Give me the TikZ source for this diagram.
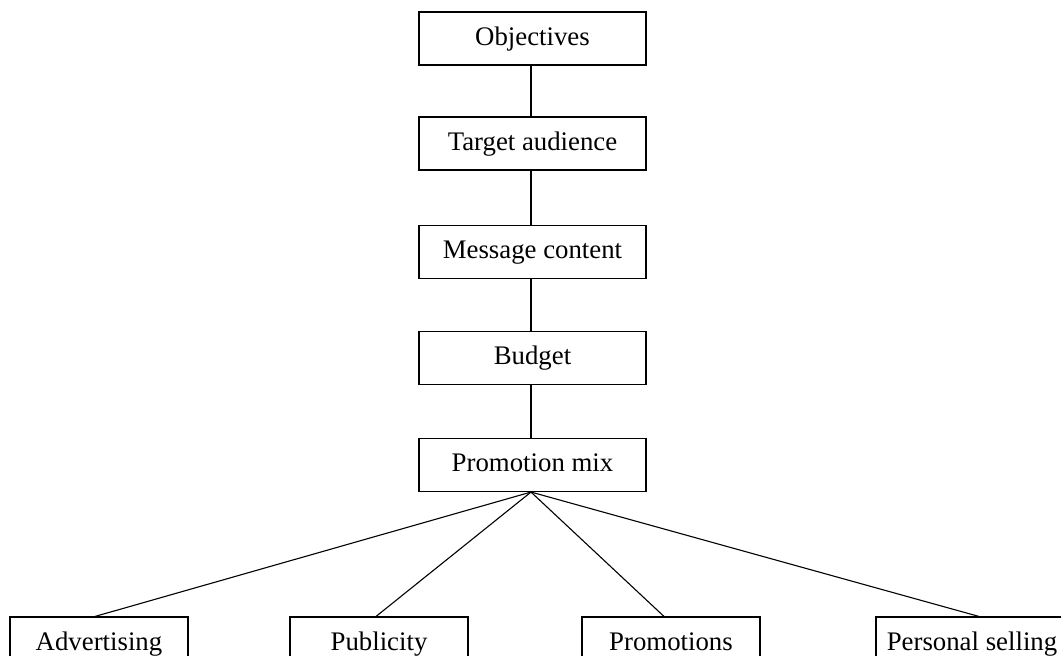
\documentclass[tikz,border=0pt]{standalone}
\usepackage{fontspec}
\setmainfont{Liberation Serif}
\begin{document}
\begin{tikzpicture}[x=1pt,y=-1pt,
  box/.style={draw, line width=1.1pt, minimum height=53pt, inner sep=0pt,
    text height=18pt, text depth=5pt, font=\fontsize{26.8}{30}\selectfont},
  topbox/.style={box, minimum width=227pt},
  botbox/.style={box, minimum width=178pt},
  link/.style={line width=1.1pt}]
\clip (0,0) rectangle (1061,656);
\useasboundingbox (0,0) rectangle (1061,656);
\node[topbox] (obj) at (532.5,38.5) {Objectives};
\node[topbox] (ta) at (532.5,143.5) {Target audience};
\node[topbox] (mc) at (532.5,252) {Message content};
\node[topbox] (bu) at (532.5,358) {Budget};
\node[topbox] (pm) at (532.5,465) {Promotion mix};
\node[botbox] (ad) at (99,643.5) {Advertising};
\node[botbox] (pu) at (379,643.5) {Publicity};
\node[botbox] (pr) at (671,643.5) {Promotions};
\node[botbox, minimum width=192pt] (ps) at (972,643.5) {Personal selling};
\draw[link] ([xshift=-1.5pt]obj.south) -- ([xshift=-1.5pt]ta.north);
\draw[link] ([xshift=-1.5pt]ta.south) -- ([xshift=-1.5pt]mc.north);
\draw[link] ([xshift=-1.5pt]mc.south) -- ([xshift=-1.5pt]bu.north);
\draw[link] ([xshift=-1.5pt]bu.south) -- ([xshift=-1.5pt]pm.north);
\draw[link] ([xshift=-1.5pt]pm.south) -- ([xshift=-4pt]ad.north);
\draw[link] ([xshift=-1.5pt]pm.south) -- ([xshift=-3pt]pu.north);
\draw[link] ([xshift=-1.5pt]pm.south) -- ([xshift=-7pt]pr.north);
\draw[link] ([xshift=-1.5pt]pm.south) -- ([xshift=7pt]ps.north);
\end{tikzpicture}
\end{document}
